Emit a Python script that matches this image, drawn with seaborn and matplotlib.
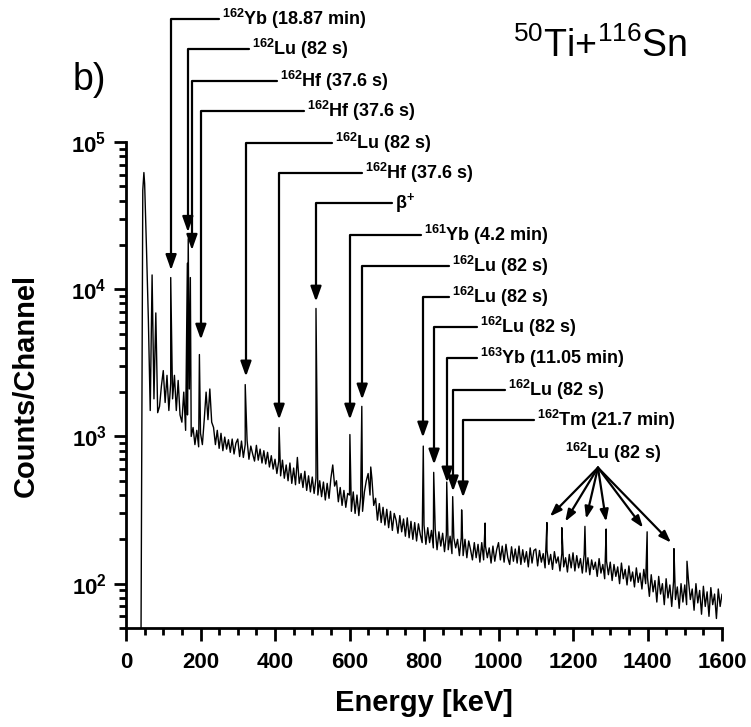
import matplotlib
matplotlib.use("Agg")
import matplotlib.pyplot as plt
from matplotlib.ticker import MultipleLocator, LogLocator, FuncFormatter, NullFormatter
import seaborn as sns
import numpy as np
import pandas as pd

# spectrum: counts every 5 keV from 40 keV to 1600 keV
grid_start, grid_step = 40, 5
counts = [
    30, 47000, 52000, 18700, 6200, 1500, 12500, 1800, 6900, 1450, 1600, 2200,  # 40-95
    2800, 1700, 2600, 1500, 2300, 1800, 2600, 1500, 2400, 1400,
    1250, 2000, 1100, 1400, 2100, 1000, 1150, 880, 1100, 850,  # 100-195
    1050, 880, 1300, 2000, 1300, 2100, 1250, 1150, 880, 1100,
    830, 1050, 800, 990, 820, 950, 780, 960, 760, 900,  # 200-295
    960, 730, 930, 720, 880, 940, 700, 860, 760, 680,
    870, 690, 820, 660, 800, 650, 780, 620, 740, 600,  # 300-395
    700, 560, 680, 540, 690, 520, 640, 500, 660, 480,
    610, 470, 720, 480, 560, 450, 580, 430, 540, 420,  # 400-495
    530, 410, 520, 400, 500, 390, 490, 370, 480, 380,
    520, 640, 460, 500, 360, 450, 340, 430, 330, 410,  # 500-595
    400, 310, 420, 300, 400, 290, 390, 310, 420, 500,
    560, 400, 520, 340, 380, 270, 350, 260, 330, 250,  # 600-695
    320, 240, 310, 230, 300, 270, 220, 290, 225, 275,
    210, 280, 205, 265, 200, 260, 195, 255, 215, 190,  # 700-795
    250, 185, 240, 190, 230, 175, 235, 170, 225, 180,
    220, 165, 215, 170, 210, 160, 205, 175, 200, 155,  # 800-895
    205, 155, 200, 150, 195, 170, 145, 190, 150, 185,
    140, 190, 145, 180, 150, 175, 138, 180, 142, 170,  # 900-995
    190, 145, 180, 140, 185, 150, 135, 178, 142, 172,
    138, 180, 135, 170, 140, 165, 130, 175, 138, 168,  # 1000-1095
    172, 132, 168, 140, 160, 128, 170, 135, 158, 125,
    165, 138, 152, 122, 160, 130, 150, 120, 158, 128,  # 1100-1195
    162, 122, 155, 128, 148, 118, 158, 120, 150, 115,
    145, 125, 140, 112, 148, 118, 135, 108, 142, 115,  # 1200-1295
    140, 105, 135, 112, 130, 100, 138, 108, 125, 98,
    132, 104, 120, 95, 128, 102, 118, 92, 125, 100,  # 1300-1395
    110, 82, 115, 88, 105, 75, 112, 85, 100, 72,
    108, 80, 98, 70, 104, 78, 95, 68, 100, 75,  # 1400-1495
    98, 72, 105, 78, 92, 66, 100, 74, 90, 62,
    96, 70, 88, 60, 94, 72, 85, 58, 92, 70,  # 1500-1595
    85,  # 1600
]

# sharp gamma lines (keV, counts at the top)
peak_energy = [48, 120, 164.7, 167, 172.7, 197, 320, 411, 510, 601, 633, 657,
               798, 826, 861, 877, 901, 964, 1130, 1170, 1232, 1289, 1399, 1471, 1506]
peak_counts = [62000, 12000, 15000, 22000, 12000, 3600, 2250, 1150, 7400, 1030, 1600, 620,
               860, 570, 490, 390, 317, 258, 260, 240, 245, 235, 225, 173, 142]

# labelled lines: text, arrow energy, arrow tip, level of the leader, text start
ann_text = [r"$\mathbf{^{162}}$Yb (18.87 min)", r"$\mathbf{^{162}}$Lu (82 s)",
            r"$\mathbf{^{162}}$Hf (37.6 s)", r"$\mathbf{^{162}}$Hf (37.6 s)",
            r"$\mathbf{^{162}}$Lu (82 s)", r"$\mathbf{^{162}}$Hf (37.6 s)",
            r"β$\mathbf{^{+}}$", r"$\mathbf{^{161}}$Yb (4.2 min)",
            r"$\mathbf{^{162}}$Lu (82 s)", r"$\mathbf{^{162}}$Lu (82 s)",
            r"$\mathbf{^{162}}$Lu (82 s)", r"$\mathbf{^{163}}$Yb (11.05 min)",
            r"$\mathbf{^{162}}$Lu (82 s)", r"$\mathbf{^{162}}$Tm (21.7 min)"]
ann_energy = [121, 166, 177, 201, 322, 411, 510, 601, 634, 797, 827, 862, 878, 905]
ann_tip = [13500, 24500, 18500, 4540, 2550, 1300, 8230, 1300, 1780, 982, 644, 486, 423, 385]
ann_level = [6.8e5, 4.3e5, 2.6e5, 1.62e5, 9.8e4, 6.2e4, 3.86e4, 2.34e4, 1.44e4,
             8870, 5560, 3430, 2075, 1300]
ann_text_x = [258, 338, 413, 486, 561, 642, 722, 800, 875, 875, 950, 950, 1025, 1103]

# 162Lu group at high energy
group_text = r"$\mathbf{^{162}}$Lu (82 s)"
group_text_pos = (1307, 776)
group_origin = (1267, 614)
group_tip_energy = [1138, 1179, 1235, 1289, 1388, 1463]
group_tip_counts = [286, 264, 276, 264, 240, 190]

grid_energy = grid_start + grid_step * np.arange(len(counts))
spec = pd.DataFrame({
    "energy": np.concatenate([grid_energy, peak_energy]),
    "counts": np.concatenate([counts, peak_counts]),
}).sort_values("energy")

sns.set_style("ticks")
plt.rcParams["font.family"] = ["Liberation Sans", "DejaVu Sans"]
plt.rcParams["mathtext.fontset"] = "custom"
plt.rcParams["mathtext.rm"] = "Liberation Sans"
plt.rcParams["mathtext.bf"] = "Liberation Sans:bold"
plt.rcParams["mathtext.it"] = "Liberation Sans:italic"
for key in ["text.color", "axes.labelcolor", "xtick.color", "ytick.color", "axes.edgecolor"]:
    plt.rcParams[key] = "black"

fig = plt.figure(figsize=(7.51, 7.27), dpi=100)
ax = fig.add_axes([0.1678, 0.1362, 0.7936, 0.6685])

sns.lineplot(data=spec, x="energy", y="counts", estimator=None, sort=False,
             color="black", lw=1.0, ax=ax)

ax.set_yscale("log")
ax.set_xlim(0, 1600)
ax.set_ylim(50, 1e5)

for s in ["top", "right"]:
    ax.spines[s].set_visible(False)
for s in ["left", "bottom"]:
    ax.spines[s].set_linewidth(2.0)

ax.xaxis.set_major_locator(MultipleLocator(200))
ax.xaxis.set_minor_locator(MultipleLocator(50))
ax.yaxis.set_major_locator(LogLocator(base=10))
ax.yaxis.set_minor_locator(LogLocator(base=10, subs=np.arange(2, 10)))
ax.yaxis.set_minor_formatter(NullFormatter())
ax.yaxis.set_major_formatter(FuncFormatter(lambda v, pos: r"$\mathbf{10^{%d}}$" % round(np.log10(v))))

ax.tick_params(axis="both", which="major", direction="out", length=9, width=2.0,
               labelsize=16, pad=5)
ax.tick_params(axis="x", which="major", pad=8)
ax.tick_params(axis="both", which="minor", direction="out", length=5, width=2.0)
for lab in ax.get_xticklabels():
    lab.set_fontweight("bold")

ax.set_xlabel("Energy [keV]", fontsize=21, fontweight="bold")
ax.set_ylabel("Counts/Channel", fontsize=21, fontweight="bold")
ax.xaxis.set_label_coords(0.5, -0.154)
ax.xaxis.label.set_va("center")
ax.yaxis.set_label_coords(-0.168, 0.5)
ax.yaxis.label.set_va("center")

arrow_kw = dict(arrowstyle="-|>,head_length=0.7,head_width=0.25", color="black",
                lw=1.6, shrinkA=0, shrinkB=0)

for txt, ex, tip, lev, tx in zip(ann_text, ann_energy, ann_tip, ann_level, ann_text_x):
    ax.annotate(txt, xy=(ex, tip), xytext=(tx, lev), textcoords="data",
                ha="left", va="center", fontsize=13, fontweight="bold",
                annotation_clip=False,
                arrowprops=dict(connectionstyle="angle,angleA=0,angleB=90,rad=0",
                                relpos=(0, 0.5), **arrow_kw))

ax.text(group_text_pos[0], group_text_pos[1], group_text, ha="center", va="center",
        fontsize=13, fontweight="bold")
for ex, tip in zip(group_tip_energy, group_tip_counts):
    ax.annotate("", xy=(ex, tip), xytext=group_origin, arrowprops=arrow_kw)

fig.text(0.097, 0.89, "b)", fontsize=27, ha="left", va="center")
fig.text(0.683, 0.9216, r"$\mathrm{^{50}}$Ti+$\mathrm{^{116}}$Sn", fontsize=27,
         ha="left", va="baseline")

fig.savefig("out.png", dpi=100)
